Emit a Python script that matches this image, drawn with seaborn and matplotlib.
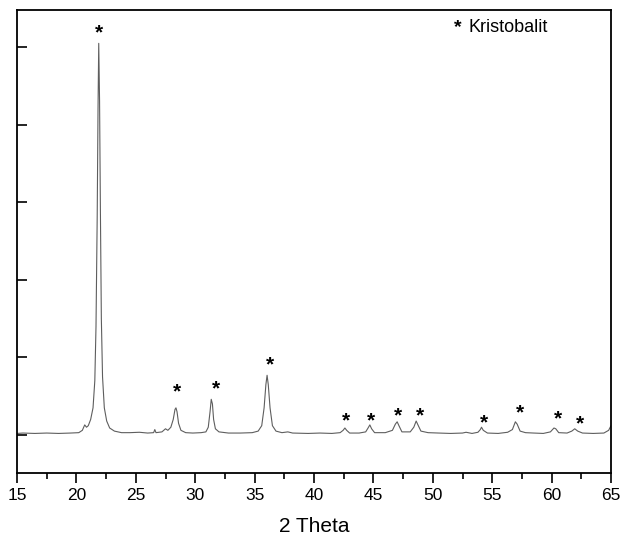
import matplotlib
matplotlib.use("Agg")
import pandas as pd
from matplotlib import pyplot as plt
from matplotlib.ticker import MultipleLocator
import seaborn as sns

# XRD trace (2 theta, intensity in y-tick units)
two_theta = [15.0, 15.5, 16.5, 17.5, 18.5, 19.5, 20.2, 20.5, 20.7, 20.85, 21.0, 21.2, 21.4,
             21.55, 21.65, 21.75, 21.82, 21.88, 21.95, 22.02, 22.1, 22.2, 22.35, 22.55, 22.8,
             23.2, 23.8, 24.5, 25.3, 26.0, 26.5, 26.6, 26.7, 27.2, 27.5, 27.7, 27.95, 28.15,
             28.3, 28.38, 28.47, 28.6, 28.8, 29.2, 29.8, 30.5, 30.9, 31.1, 31.25, 31.35, 31.45,
             31.55, 31.7, 32.0, 32.8, 33.8, 34.8, 35.3, 35.6, 35.8, 35.95, 36.05, 36.15, 36.3,
             36.5, 36.8, 37.3, 37.8, 38.2, 39.5, 40.5, 41.5, 42.2, 42.45, 42.6, 42.75, 43.0,
             43.8, 44.35, 44.55, 44.7, 44.85, 45.1, 46.0, 46.6, 46.85, 47.0, 47.15, 47.4, 48.1,
             48.4, 48.6, 48.75, 49.0, 49.6, 50.5, 51.5, 52.5, 52.8, 53.3, 53.8, 54.0, 54.1,
             54.25, 54.6, 55.5, 56.3, 56.7, 56.95, 57.1, 57.35, 57.8, 58.5, 59.3, 59.9, 60.2,
             60.35, 60.6, 61.3, 61.7, 61.95, 62.2, 62.6, 63.5, 64.4, 64.8, 65.0]
intensity = [0.02, 0.025, 0.02, 0.025, 0.02, 0.025, 0.03, 0.06, 0.13, 0.10, 0.12, 0.2, 0.35,
             0.7, 1.4, 2.8, 4.2, 5.05, 4.3, 2.9, 1.5, 0.75, 0.35, 0.18, 0.09,
             0.05, 0.03, 0.03, 0.035, 0.025, 0.03, 0.07, 0.03, 0.04, 0.08, 0.06, 0.1, 0.2,
             0.33, 0.35, 0.3, 0.15, 0.06, 0.03, 0.025, 0.03, 0.04, 0.1, 0.3, 0.46, 0.4,
             0.2, 0.08, 0.04, 0.025, 0.025, 0.03, 0.05, 0.12, 0.35, 0.65, 0.77, 0.65, 0.35,
             0.12, 0.05, 0.03, 0.04, 0.025, 0.02, 0.025, 0.02, 0.03, 0.06, 0.09, 0.06, 0.025,
             0.025, 0.04, 0.09, 0.13, 0.08, 0.03, 0.03, 0.06, 0.14, 0.17, 0.12, 0.04, 0.04,
             0.1, 0.18, 0.13, 0.05, 0.03, 0.025, 0.02, 0.025, 0.035, 0.02, 0.035, 0.07, 0.1,
             0.06, 0.025, 0.02, 0.035, 0.07, 0.17, 0.14, 0.05, 0.03, 0.025, 0.02, 0.04, 0.09,
             0.08, 0.03, 0.025, 0.05, 0.08, 0.05, 0.025, 0.02, 0.025, 0.06, 0.12]

# cristobalite markers
star_x = [21.9, 28.44, 31.75, 36.3, 42.67, 44.8, 47.1, 48.9, 54.3, 57.3, 60.56, 62.4]
star_y = [5.19, 0.56, 0.59, 0.90, 0.18, 0.18, 0.245, 0.245, 0.16, 0.28, 0.21, 0.14]

x_ticks = [15, 20, 25, 30, 35, 40, 45, 50, 55, 60, 65]
y_ticks = [0, 1, 2, 3, 4, 5]

sns.set_style("ticks")
plt.rcParams['font.family'] = ['Liberation Sans', 'DejaVu Sans']
plt.rcParams['text.color'] = 'black'
plt.rcParams['axes.labelcolor'] = 'black'
plt.rcParams['xtick.color'] = 'black'
plt.rcParams['ytick.color'] = 'black'

df = pd.DataFrame({"2 Theta": two_theta, "I": intensity})

fig = plt.figure(figsize=(6.25, 5.4), dpi=100)
ax = fig.add_axes([0.0272, 0.1241, 0.9504, 0.8574])
sns.lineplot(data=df, x="2 Theta", y="I", color="#5e5e5e", linewidth=0.8, ax=ax)

for sx, sy in zip(star_x, star_y):
    ax.text(sx, sy, "*", ha="center", va="center", fontsize=15, fontweight="bold", color="black")

# legend-like note
ax.text(0.749, 0.963, "*", transform=ax.transAxes, ha="right", va="center",
        fontsize=14, fontweight="bold")
ax.text(0.76, 0.963, "Kristobalit", transform=ax.transAxes, ha="left", va="center", fontsize=13)

ax.set_xlim(15, 65)
ax.set_ylim(-0.49, 5.48)
ax.set_xticks(x_ticks)
ax.xaxis.set_minor_locator(MultipleLocator(2.5))
ax.set_yticks(y_ticks)
ax.set_yticklabels([])
ax.set_ylabel("")
ax.set_xlabel("2 Theta", fontsize=15, labelpad=10)
ax.tick_params(axis="x", direction="out", length=7, width=1.2, labelsize=12.5, pad=4)
ax.tick_params(axis="x", which="minor", direction="out", length=4, width=1.2)
ax.tick_params(axis="y", direction="in", length=7, width=1.2)
for sp in ax.spines.values():
    sp.set_visible(True)
    sp.set_linewidth(1.3)
    sp.set_color("black")

fig.savefig("out.png", dpi=100)
